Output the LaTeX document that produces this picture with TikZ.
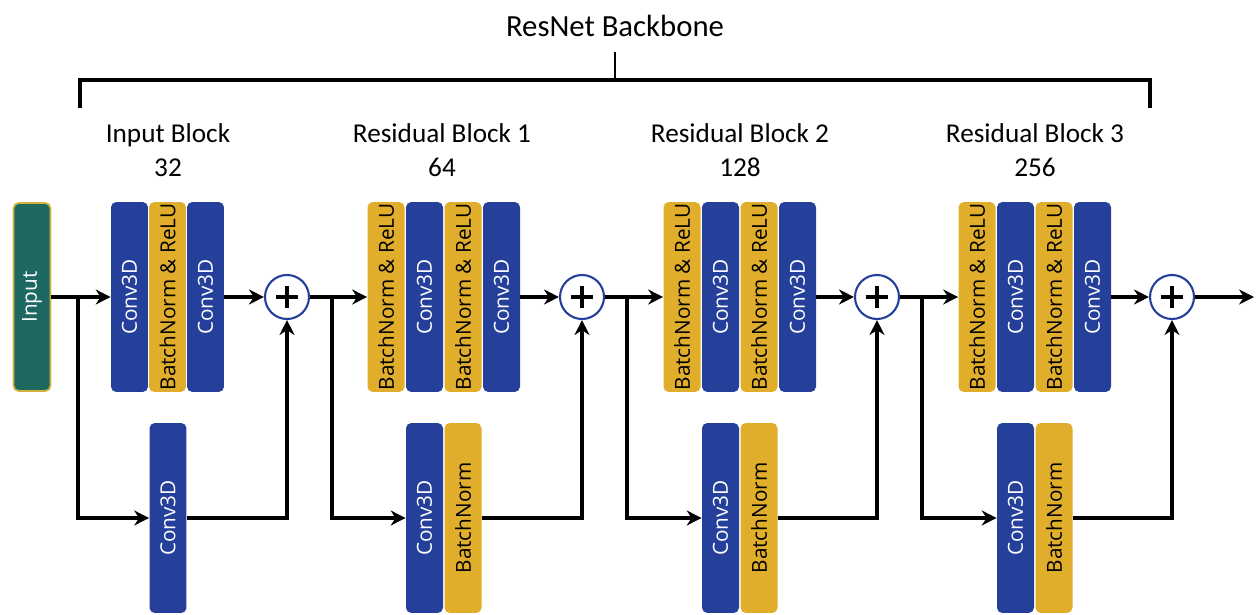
\documentclass[tikz,border=0pt]{standalone}
\usepackage{fontspec}
\setmainfont{Open Sans}
\newfontfamily\lblfont{Carlito}
\usetikzlibrary{arrows.meta}
\definecolor{cblue}{RGB}{36,64,154}
\definecolor{cyel}{RGB}{224,174,42}
\definecolor{cteal}{RGB}{30,104,98}
\definecolor{cborder}{RGB}{212,178,60}
\begin{document}
\begin{tikzpicture}[x=0.02cm,y=-0.02cm,
  bar/.style={rectangle,rounded corners=3pt,minimum width=0.74cm,minimum height=3.8cm,inner sep=0pt,font=\fontsize{11.8}{12}\selectfont},
  bl/.style={bar,fill=cblue,text=white},
  ye/.style={bar,fill=cyel,text=black},
  sumnode/.style={circle,draw=cblue,line width=1.2pt,fill=white,minimum size=0.88cm,inner sep=0pt,
    path picture={\draw[line width=1.9pt,black] (path picture bounding box.center) ++(-6.4pt,0) -- ++(12.8pt,0);
                  \draw[line width=1.9pt,black] (path picture bounding box.center) ++(0,-6.4pt) -- ++(0,12.8pt);}},
  arr/.style={line width=2pt,-{Stealth[length=8.5pt,width=8.5pt]}},
  lbl/.style={font=\lblfont\fontsize{15.5}{19}\selectfont,align=center}
]
\useasboundingbox (0,0) rectangle (1258,615);
% title and bracket
\node[font=\lblfont\fontsize{17.5}{20}\selectfont] (title) at (615,26) {ResNet Backbone};
\coordinate (bl) at (80,108);
\coordinate (br) at (1150,108);
\coordinate (bs) at (615,52);
\draw[line width=1.9pt] (bl) -- (80,80) -- (1150,80) -- (br);
\draw[line width=1.7pt] (bs) -- (615,80);
% labels
\node[lbl] (l0) at (168,150) {Input Block\\32};
\node[lbl] (l1) at (442,150) {Residual Block 1\\64};
\node[lbl] (l2) at (740,150) {Residual Block 2\\128};
\node[lbl] (l3) at (1035,150) {Residual Block 3\\256};
% input
\node[bar,fill=cteal,draw=cborder,line width=1pt,text=white,minimum height=3.76cm] (in) at (32,297) {\rotatebox{90}{Input}};
% input block
\node[bl] (i1) at (129.5,297) {\rotatebox{90}{Conv3D}};
\node[ye] (i2) at (167.5,297) {\rotatebox{90}{BatchNorm \& ReLU}};
\node[bl] (i3) at (205.5,297) {\rotatebox{90}{Conv3D}};
\node[bl] (is) at (168,518) {\rotatebox{90}{Conv3D}};
\node[sumnode] (p0) at (287,297) {};
% residual block 1
\node[ye] (a1) at (386,297) {\rotatebox{90}{BatchNorm \& ReLU}};
\node[bl] (a2) at (424.5,297) {\rotatebox{90}{Conv3D}};
\node[ye] (a3) at (463,297) {\rotatebox{90}{BatchNorm \& ReLU}};
\node[bl] (a4) at (501.5,297) {\rotatebox{90}{Conv3D}};
\node[bl] (as1) at (424.5,518) {\rotatebox{90}{Conv3D}};
\node[ye] (as2) at (463,518) {\rotatebox{90}{BatchNorm}};
\node[sumnode] (p1) at (582,297) {};
% residual block 2
\node[ye] (b1) at (682,297) {\rotatebox{90}{BatchNorm \& ReLU}};
\node[bl] (b2) at (720.5,297) {\rotatebox{90}{Conv3D}};
\node[ye] (b3) at (759,297) {\rotatebox{90}{BatchNorm \& ReLU}};
\node[bl] (b4) at (797.5,297) {\rotatebox{90}{Conv3D}};
\node[bl] (bs1) at (720.5,518) {\rotatebox{90}{Conv3D}};
\node[ye] (bs2) at (759,518) {\rotatebox{90}{BatchNorm}};
\node[sumnode] (p2) at (877,297) {};
% residual block 3
\node[ye] (c1) at (977,297) {\rotatebox{90}{BatchNorm \& ReLU}};
\node[bl] (c2) at (1015.5,297) {\rotatebox{90}{Conv3D}};
\node[ye] (c3) at (1054,297) {\rotatebox{90}{BatchNorm \& ReLU}};
\node[bl] (c4) at (1092.5,297) {\rotatebox{90}{Conv3D}};
\node[bl] (cs1) at (1015.5,518) {\rotatebox{90}{Conv3D}};
\node[ye] (cs2) at (1054,518) {\rotatebox{90}{BatchNorm}};
\node[sumnode] (p3) at (1172,297) {};
\coordinate (out) at (1254,297);
% branch points
\coordinate (k0) at (78,297);
\coordinate (k1) at (332,297);
\coordinate (k2) at (627,297);
\coordinate (k3) at (922,297);
% connectors
\draw[arr] (in.east) -- (i1.west);
\draw[arr] (k0) |- (is.west);
\draw[arr] (i3.east) -- (p0.west);
\draw[arr] (is.east) -| (p0.south);
\draw[arr] (p0.east) -- (a1.west);
\draw[arr] (k1) |- (as1.west);
\draw[arr] (a4.east) -- (p1.west);
\draw[arr] (as2.east) -| (p1.south);
\draw[arr] (p1.east) -- (b1.west);
\draw[arr] (k2) |- (bs1.west);
\draw[arr] (b4.east) -- (p2.west);
\draw[arr] (bs2.east) -| (p2.south);
\draw[arr] (p2.east) -- (c1.west);
\draw[arr] (k3) |- (cs1.west);
\draw[arr] (c4.east) -- (p3.west);
\draw[arr] (cs2.east) -| (p3.south);
\draw[arr] (p3.east) -- (out);
\end{tikzpicture}
\end{document}
